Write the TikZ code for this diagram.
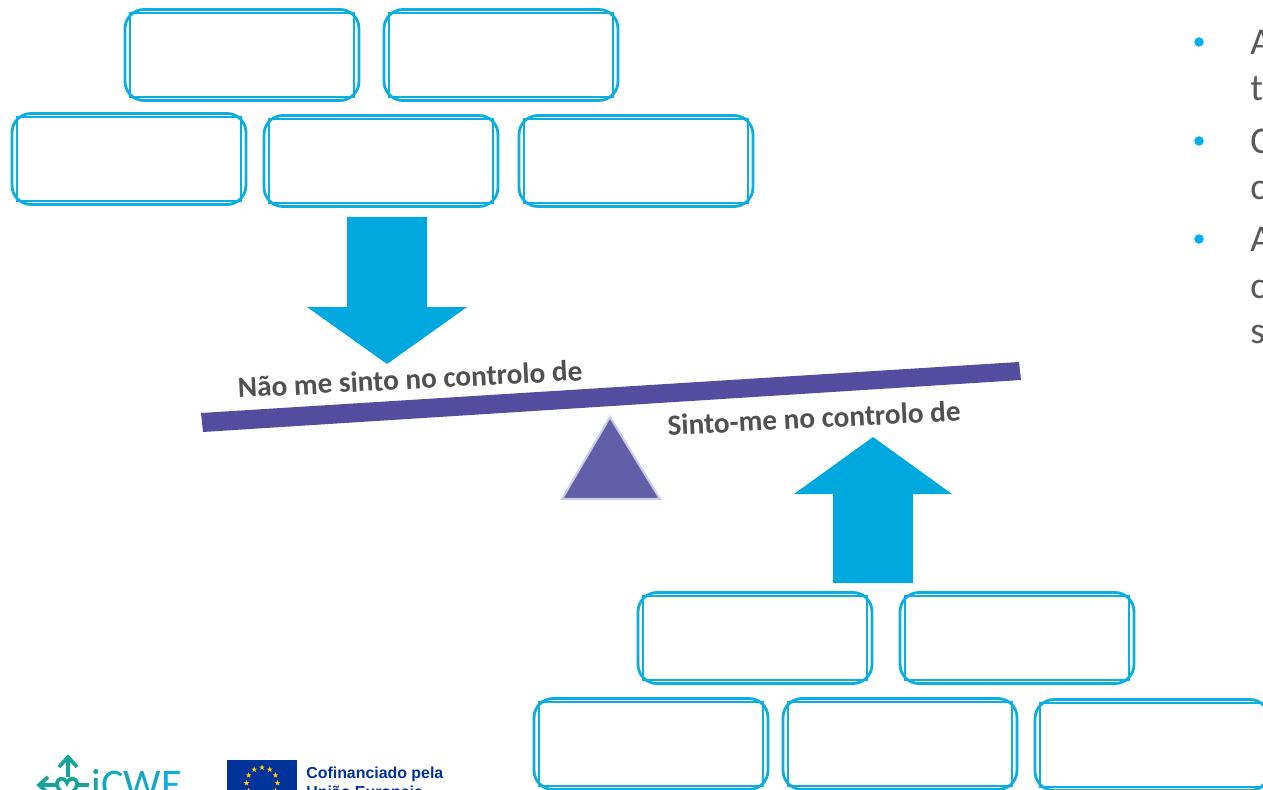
\documentclass[tikz,border=0pt]{standalone}
\usepackage{fontspec}
\setmainfont{Carlito}
\newfontfamily\euroFont{Liberation Sans}
\usetikzlibrary{shapes.geometric, positioning}
\definecolor{boxBlue}{HTML}{0CADE0}
\definecolor{arrowBlue}{HTML}{00A8E0}
\definecolor{dotBlue}{HTML}{00B0F0}
\definecolor{plankPurple}{HTML}{544D9F}
\definecolor{pivotPurple}{HTML}{625EA8}
\definecolor{pivotEdge}{HTML}{C9CCE4}
\definecolor{labelGrey}{HTML}{505050}
\definecolor{sideGrey}{HTML}{595959}
\definecolor{logoTeal}{HTML}{16A398}
\definecolor{logoCyan}{HTML}{12A8C4}
\definecolor{flagBlue}{HTML}{003399}
\definecolor{flagYellow}{HTML}{FFCC00}
\tikzset{
  x=0.02cm, y=-0.02cm,
  outerbox/.style={draw=boxBlue, line width=1.6pt, rounded corners=0.38cm, minimum width=4.68cm, minimum height=1.82cm, inner sep=0pt},
  innerbox/.style={draw=boxBlue, line width=0.7pt, minimum width=4.48cm, minimum height=1.68cm, inner sep=0pt},
  balancetext/.style={text=labelGrey, font=\bfseries\fontsize{16.65}{19}\selectfont, rotate=2.9, inner sep=0pt},
  sidetext/.style={text=sideGrey, font=\fontsize{21.5}{26}\selectfont, anchor=base west, inner sep=0pt},
  bulletdot/.style={circle, fill=dotBlue, minimum size=0.19cm, inner sep=0pt},
  eustar/.style={star, star points=5, star point ratio=2.4, fill=flagYellow, minimum size=0.12cm, inner sep=0pt},
  logoline/.style={logoTeal, line width=2.1pt},
  logotext/.style={font=\fontsize{24}{26}\selectfont, inner sep=0pt},
  eutext/.style={anchor=base west, inner sep=0pt, text=flagBlue, font=\euroFont\bfseries\fontsize{9.05}{11}\selectfont}
}
\begin{document}
\begin{tikzpicture}
  \useasboundingbox (0,0) rectangle (1263,790);
  \clip (0,0) rectangle (1263,790);

  % Kotak atas dan bawah
  \foreach \name/\x/\y in {top1/242/55, top2/501/55, mid1/129/159, mid2/381/161, mid3/636/161,
      low1/755/638, low2/1017/638, bot1/651/744, bot2/900/744, bot3/1152/745} {
    \node[outerbox] (\name) at (\x,\y) {};
    \node[innerbox] (\name in) at (\x,\y) {};
  }

  % Panah
  \fill[arrowBlue] (347,217) -- (427,217) -- (427,307) -- (467,307) -- (387,364) -- (307,307) -- (347,307) -- cycle;
  \fill[arrowBlue] (833,583) -- (913,583) -- (913,494) -- (952,494) -- (873,437) -- (794,494) -- (833,494) -- cycle;

  % Timbangan
  \fill[plankPurple] (201,413) -- (1019,362) -- (1021,380) -- (203,432) -- cycle;
  \draw[fill=pivotPurple, draw=pivotEdge, line width=1.2pt] (610,417) -- (660,499) -- (562,499) -- cycle;
  \node[balancetext] (notincontrol) at (410,379) {Não me sinto no controlo de};
  \node[balancetext] (incontrol) at (814,418) {Sinto-me no controlo de};

  % Teks kanan
  \foreach \y in {42,141,239} {
    \node[bulletdot] (dot\y) at (1199,\y) {};
  }
  \node[sidetext] (lineA) at (1250,55) {A};
  \node[sidetext] (lineB) at (1250,101) {t};
  \node[sidetext] (lineC) at (1250,154) {C};
  \node[sidetext] (lineD) at (1250,200) {c};
  \node[sidetext] (lineE) at (1250,252) {A};
  \node[sidetext] (lineF) at (1250,298) {c};
  \node[sidetext] (lineG) at (1250,343) {s};

  % Logo
  \draw[logoline] (68,757) -- (68,777);
  \draw[logoline] (59,767) -- (68,757) -- (77,767);
  \draw[logoline] (39,785) -- (56,785);
  \draw[logoline] (48,777) -- (39,785) -- (48,793);
  \draw[logoline] (78,785) -- (89,785);
  \draw[logoline] (67,797) .. controls (57,790) and (54,782) .. (60,779) .. controls (63,778) and (66,780) .. (67,783) .. controls (68,780) and (71,778) .. (74,779) .. controls (80,782) and (77,790) .. (67,797);
  \node[logotext, anchor=base west] (logoname) at (91,798) {\textcolor{logoTeal}{i}\textcolor{logoCyan}{CW}\textcolor{boxBlue}{E}};

  % Bendera
  \fill[flagBlue] (227,760) rectangle (297,790);
  \foreach \a in {0,30,...,330} {
    \node[eustar] (star\a) at ([shift={(\a:15.5)}]262,783) {};
  }
  \node[eutext] (cofin) at (306,778) {Cofinanciado pela};
  \node[eutext] (uniao) at (306,797) {União Europeia};
\end{tikzpicture}
\end{document}
